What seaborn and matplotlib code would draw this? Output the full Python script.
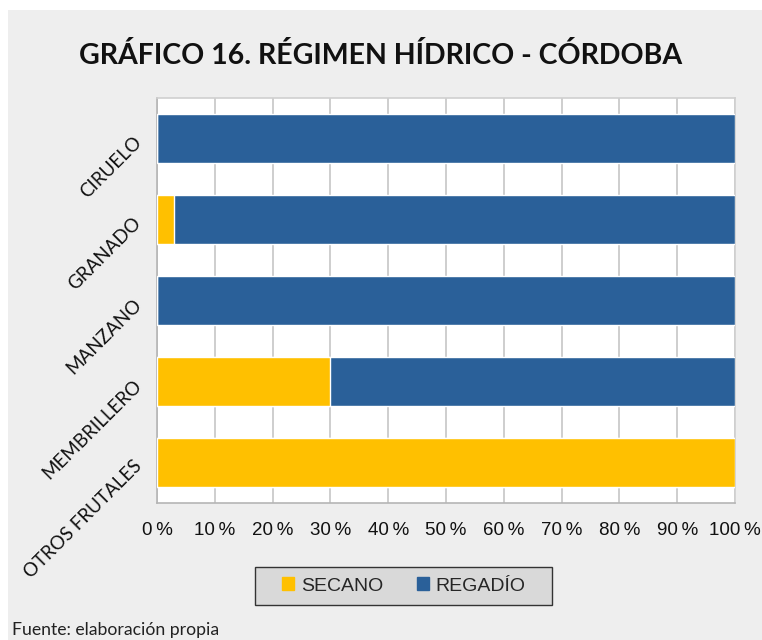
import matplotlib.pyplot as plt
import matplotlib.patches as mpatches
import pandas as pd
import seaborn as sns

# Datos del gráfico (porcentajes por cultivo)
categories = ["CIRUELO", "GRANADO", "MANZANO", "MEMBRILLERO", "OTROS FRUTALES"]
secano = [0, 3, 0, 30, 100]
regadio = [100, 97, 100, 70, 0]
x_ticks = [0, 10, 20, 30, 40, 50, 60, 70, 80, 90, 100]
x_labels = [f"{v}\u2009%" for v in x_ticks]

c_secano = "#FFC000"
c_regadio = "#2A6099"

df = pd.DataFrame({"cultivo": categories, "secano": secano, "regadio": regadio})
df["total"] = df["secano"] + df["regadio"]

sns.set_style("white")
plt.rcParams["font.family"] = ["Liberation Sans", "DejaVu Sans"]

fig = plt.figure(figsize=(7.62, 6.40), dpi=100)
fig.patch.set_facecolor("white")
fig.add_artist(mpatches.Rectangle((8 / 762, 0), 1, 1 - 10 / 640, transform=fig.transFigure,
                                  facecolor="#eeeeee", edgecolor="none", zorder=-10))

ax = fig.add_axes([157 / 762, 1 - 503 / 640, 578 / 762, 405 / 640])
ax.set_facecolor("white")

# regadío se dibuja hasta el total, secano encima desde 0
sns.barplot(data=df, y="cultivo", x="total", color=c_regadio, orient="h",
            width=0.6, saturation=1, ax=ax, zorder=3)
sns.barplot(data=df, y="cultivo", x="secano", color=c_secano, orient="h",
            width=0.6, saturation=1, ax=ax, zorder=4)

ax.set_xlim(0, 100)
ax.set_ylim(4.5, -0.5)
ax.set_xticks(x_ticks)
ax.set_xticklabels(x_labels, fontsize=13.5, color="#111111")
ax.set_xlabel("")
ax.set_ylabel("")
ax.xaxis.grid(True, color="#c6c6c6", linewidth=1.2, zorder=0)
ax.set_axisbelow(True)

ax.set_yticks(range(len(categories)))
ax.set_yticklabels(categories, rotation=45, ha="right", rotation_mode="anchor",
                   fontsize=13.5, family=["Lato", "DejaVu Sans"], color="#111111")
ax.tick_params(axis="y", length=0, pad=14)
ax.set_yticks([i - 0.5 for i in range(len(categories) + 1)], minor=True)
ax.tick_params(axis="y", which="minor", length=5.5, width=1.2, color="#b5b5b5")
ax.tick_params(axis="x", length=6, width=1.2, color="#b5b5b5", pad=8, direction="out")

for side in ["left", "bottom"]:
    ax.spines[side].set_color("#b5b5b5")
    ax.spines[side].set_linewidth(1.2)
for side in ["top", "right"]:
    ax.spines[side].set_color("#cfcfcf")
    ax.spines[side].set_linewidth(1.2)

fig.text(381 / 762, 1 - 56 / 640, "GRÁFICO 16. RÉGIMEN HÍDRICO - CÓRDOBA",
         ha="center", va="center", fontsize=20.5, fontweight="bold",
         family=["Lato", "DejaVu Sans"], color="#111111")

# caja de la leyenda
fig.add_artist(mpatches.Rectangle((255 / 762, 1 - 605 / 640), 297 / 762, 38 / 640,
                                  transform=fig.transFigure, facecolor="#d9d9d9",
                                  edgecolor="#333333", linewidth=1.0, zorder=1))
handles = [mpatches.Patch(color=c_secano, label="SECANO"),
           mpatches.Patch(color=c_regadio, label="REGADÍO")]
fig.legend(handles=handles, loc="center", bbox_to_anchor=(404 / 762, 1 - 586 / 640),
           ncol=2, fontsize=14, frameon=False,
           handlelength=0.6, handleheight=0.6, handletextpad=0.35,
           columnspacing=1.75, borderpad=0, borderaxespad=0)

fig.text(12 / 762, 1 - 630 / 640, "Fuente: elaboración propia", ha="left", va="center",
         fontsize=12.7, family=["Lato", "DejaVu Sans"], color="#222222")

fig.savefig("out.png", dpi=100)
